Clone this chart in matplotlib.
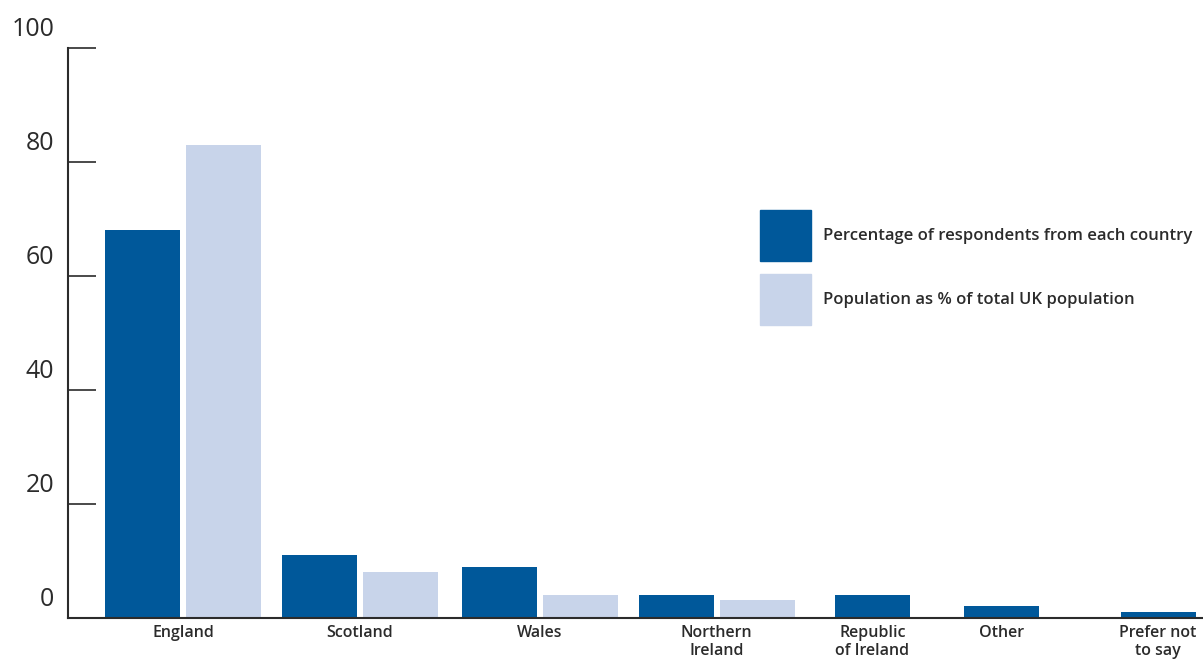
import matplotlib
matplotlib.use('Agg')
import matplotlib.pyplot as plt
from matplotlib.patches import Patch
from matplotlib.transforms import ScaledTranslation
import numpy as np

# Dados
paises = ['England', 'Scotland', 'Wales', 'Northern\nIreland',
          'Republic\nof Ireland', 'Other', 'Prefer not\nto say']
respondentes = [68, 11, 9, 4, 4, 2.1, 1]
populacao = [83, 8, 4, 3.2, np.nan, np.nan, np.nan]
y_ticks = [0, 20, 40, 60, 80, 100]

serie_resp = 'Percentage of respondents from each country'
serie_pop = 'Population as % of total UK population'

# Layout (eixo x em "pixels" a partir do eixo y)
centros = [115, 292, 471.5, 648.5, 804.5, 933.5, 1090]
largura = 75
gap = 6

cor_escura = '#00589A'
cor_clara = '#C8D4EA'
cor_texto = '#2B2B2B'

plt.rcParams['font.family'] = ['Open Sans', 'DejaVu Sans']

fig = plt.figure(figsize=(12.03, 6.62), dpi=100)
ax = fig.add_axes([68 / 1203, 44 / 662, 1135 / 1203, 570 / 662])

for c, r, p in zip(centros, respondentes, populacao):
    if np.isnan(p):
        ax.bar(c, r, width=largura, color=cor_escura)
    else:
        ax.bar(c - (largura + gap) / 2, r, width=largura, color=cor_escura)
        ax.bar(c + (largura + gap) / 2, p, width=largura, color=cor_clara)

ax.set_xlim(0, 1135)
ax.set_ylim(0, 100)

for s in ['top', 'right']:
    ax.spines[s].set_visible(False)
for s in ['left', 'bottom']:
    ax.spines[s].set_color(cor_texto)
    ax.spines[s].set_linewidth(1.5)

ax.set_yticks(y_ticks)
ax.set_yticklabels([str(v) for v in y_ticks], fontsize=18, color=cor_texto)
ax.tick_params(axis='y', direction='in', length=20, width=1.2, color=cor_texto, pad=10)
# labels acima das marcas
desloc = ScaledTranslation(0, 21 / 100, fig.dpi_scale_trans)
for lab in ax.get_yticklabels():
    lab.set_transform(lab.get_transform() + desloc)

ax.set_xticks(centros)
ax.set_xticklabels(paises, fontsize=11.5, fontweight='semibold', color=cor_texto,
                   linespacing=1.2, va='top')
ax.tick_params(axis='x', length=0, pad=5)

handles = [Patch(color=cor_escura, label=serie_resp),
           Patch(color=cor_clara, label=serie_pop)]
leg = ax.legend(handles=handles, loc='upper left',
                bbox_to_anchor=(760 / 1203, 1 - 210 / 662), bbox_transform=fig.transFigure,
                frameon=False, fontsize=12, handlelength=3.05, handleheight=4.3,
                labelspacing=0.8, handletextpad=0.75, borderpad=0, borderaxespad=0)
for t in leg.get_texts():
    t.set_color(cor_texto)
    t.set_fontweight('semibold')

plt.savefig('out.png', dpi=100)
plt.close()
